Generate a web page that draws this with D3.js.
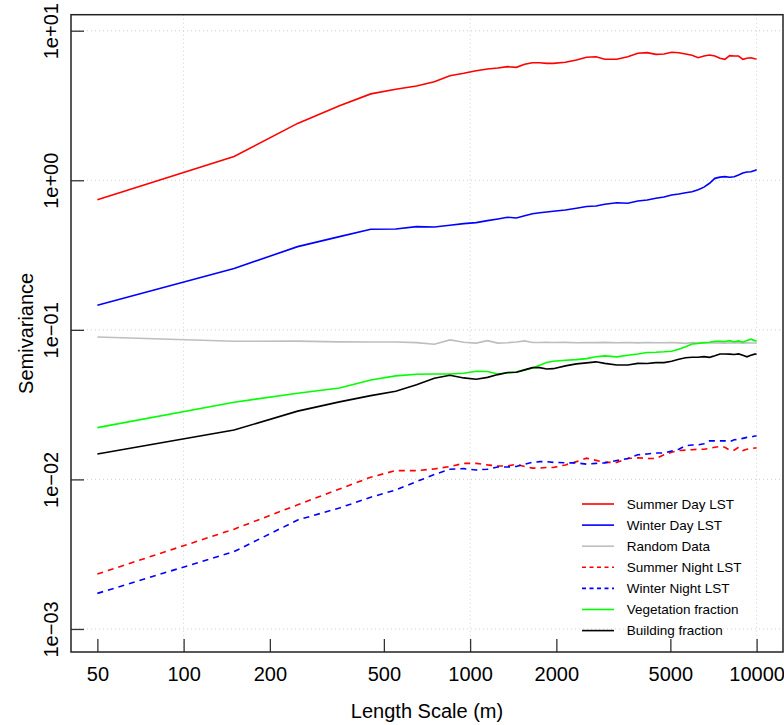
<!DOCTYPE html>
<html>
<head>
<meta charset="utf-8">
<script src="https://d3js.org/d3.v7.min.js"></script>
<style>
  body { margin: 0; background: #fff; }
  text { font-family: "Liberation Sans", Arial, Helvetica, sans-serif; fill: #000; }
</style>
</head>
<body>
<div id="chart-area"></div>
<script>
// lag distances (m)
var lags = [50, 150, 250, 350, 450, 550, 650, 750, 850, 950,
  1050, 1150, 1250, 1350, 1450, 1550, 1650, 1750, 1850, 1950,
  2150, 2350, 2550, 2750, 2950, 3250, 3550, 3850, 4150, 4450,
  4750, 5050, 5350, 5650, 5950, 6250, 6550, 6850, 7150, 7450,
  7750, 8050, 8350, 8650, 8950, 9250, 9550, 9850, 10000];

var summerDay = [0.74, 1.44, 2.40, 3.15, 3.78, 4.06, 4.27, 4.55, 5.0, 5.19,
  5.40, 5.55, 5.63, 5.75, 5.69, 5.96, 6.11, 6.11, 6.05, 6.05,
  6.15, 6.37, 6.64, 6.70, 6.44, 6.44, 6.70, 7.06, 7.13, 6.95,
  6.98, 7.17, 7.13, 6.98, 6.85, 6.60, 6.77, 6.88, 6.77, 6.54,
  6.44, 6.81, 6.77, 6.77, 6.44, 6.54, 6.60, 6.50, 6.47];

var winterDay = [0.146, 0.257, 0.360, 0.42, 0.470, 0.472, 0.49, 0.487, 0.50, 0.513,
  0.521, 0.537, 0.551, 0.566, 0.56, 0.58, 0.598, 0.607, 0.614, 0.62,
  0.633, 0.650, 0.667, 0.673, 0.691, 0.708, 0.702, 0.727, 0.738, 0.758,
  0.773, 0.797, 0.81, 0.826, 0.839, 0.865, 0.90, 0.955, 1.03, 1.05,
  1.057, 1.047, 1.057, 1.085, 1.12, 1.136, 1.14, 1.16, 1.18];

var randomData = [0.0895, 0.0839, 0.084, 0.0831, 0.083, 0.083, 0.0821, 0.0801, 0.0856, 0.0826,
  0.0815, 0.0847, 0.0815, 0.082, 0.083, 0.0843, 0.0822, 0.0822, 0.0825, 0.0822,
  0.0824, 0.082, 0.0823, 0.0821, 0.0824, 0.082, 0.0822, 0.0818, 0.0823, 0.082,
  0.0819, 0.0822, 0.0818, 0.0812, 0.0821, 0.0818, 0.082, 0.0816, 0.082, 0.0818,
  0.0815, 0.082, 0.0817, 0.0819, 0.0815, 0.0818, 0.0816, 0.0817, 0.0818];

var summerNight = [0.00233, 0.00465, 0.00676, 0.00863, 0.01035, 0.01145, 0.01145, 0.01175, 0.0122, 0.0128,
  0.0128, 0.0125, 0.0123, 0.0123, 0.0126, 0.0122, 0.0119, 0.0119, 0.012, 0.012,
  0.0125, 0.01315, 0.01387, 0.0134, 0.013, 0.013, 0.0138, 0.01395, 0.0138, 0.0138,
  0.0146, 0.0152, 0.0156, 0.0157, 0.0158, 0.0159, 0.0159, 0.0161, 0.0164, 0.0166,
  0.0164, 0.0157, 0.0157, 0.0164, 0.0156, 0.0159, 0.0161, 0.0162, 0.0162];

var winterNight = [0.00173, 0.00329, 0.00535, 0.00644, 0.0076, 0.0085, 0.00967, 0.01077, 0.0117, 0.0118,
  0.01156, 0.0117, 0.0121, 0.0121, 0.0122, 0.01264, 0.013, 0.01315, 0.01315, 0.013,
  0.0129, 0.0129, 0.01265, 0.0128, 0.0129, 0.01336, 0.0138, 0.0146, 0.0148, 0.015,
  0.015, 0.0155, 0.0159, 0.0168, 0.017, 0.017, 0.0173, 0.0181, 0.0181, 0.0181,
  0.0181, 0.0179, 0.0184, 0.0185, 0.0188, 0.0191, 0.0192, 0.0195, 0.0195];

var vegetation = [0.0222, 0.0328, 0.0377, 0.0408, 0.0462, 0.0492, 0.0505, 0.0507, 0.0507, 0.0513,
  0.0529, 0.0527, 0.0507, 0.0515, 0.0523, 0.054, 0.0556, 0.058, 0.0604, 0.0617,
  0.0626, 0.0632, 0.0642, 0.066, 0.067, 0.066, 0.0677, 0.069, 0.0705, 0.0708,
  0.0713, 0.072, 0.0742, 0.0772, 0.0805, 0.081, 0.0821, 0.0826, 0.0838, 0.0838,
  0.0835, 0.0847, 0.083, 0.0843, 0.0826, 0.0847, 0.0866, 0.0847, 0.0843];

var building = [0.0148, 0.0214, 0.0286, 0.033, 0.0363, 0.0389, 0.043, 0.0475, 0.0497, 0.0477,
  0.0467, 0.0481, 0.0502, 0.0518, 0.052, 0.054, 0.0559, 0.0559, 0.0547, 0.055,
  0.0574, 0.0592, 0.0601, 0.0611, 0.0597, 0.0582, 0.0582, 0.0597, 0.0595, 0.0604,
  0.0604, 0.0617, 0.0636, 0.065, 0.0655, 0.0655, 0.0662, 0.0655, 0.067, 0.069,
  0.069, 0.0688, 0.0684, 0.069, 0.0677, 0.066, 0.0677, 0.0688, 0.069];

var seriesNames = ["Summer Day LST", "Winter Day LST", "Random Data", "Summer Night LST",
  "Winter Night LST", "Vegetation fraction", "Building fraction"];
var seriesValues = [summerDay, winterDay, randomData, summerNight, winterNight, vegetation, building];
var seriesColors = ["#ff0000", "#0000ff", "#bebebe", "#ff0000", "#0000ff", "#00ff00", "#000000"];
var seriesDashed = [false, false, false, true, true, false, false];

var xTicks = [50, 100, 200, 500, 1000, 2000, 5000, 10000];
var xGrid = [100, 1000, 10000];
var yTicks = [1e-3, 1e-2, 1e-1, 1, 10];
var yTickLabels = ["1e\u221203", "1e\u221202", "1e\u221201", "1e+00", "1e+01"];

var margin = {left: 71, right: 1, top: 14.7, bottom: 73};
var width = 784 - margin.left - margin.right;
var height = 725 - margin.top - margin.bottom;

var svg = d3.select("#chart-area").append("svg")
  .attr("width", 784)
  .attr("height", 725);
var g = svg.append("g")
  .attr("transform", "translate(" + margin.left + "," + margin.top + ")");

// R-style log axes (4% padding in log space on x, fixed limits on y)
var x = d3.scaleLog()
  .domain([Math.pow(10, 1.6069), Math.pow(10, 4.0921)])
  .range([0, width]);
var y = d3.scaleLog()
  .domain([Math.pow(10, -3.154), Math.pow(10, 1.107)])
  .range([height, 0]);

// dotted grid
g.selectAll(".vgrid").data(xGrid).enter().append("line")
  .attr("x1", d => x(d)).attr("x2", d => x(d))
  .attr("y1", 0).attr("y2", height)
  .attr("stroke", "#cfcfcf").attr("stroke-width", 1).attr("stroke-dasharray", "1,3");
g.selectAll(".hgrid").data(yTicks).enter().append("line")
  .attr("x1", 0).attr("x2", width)
  .attr("y1", d => y(d)).attr("y2", d => y(d))
  .attr("stroke", "#cfcfcf").attr("stroke-width", 1).attr("stroke-dasharray", "1,3");

// lines
var line = d3.line()
  .x((d, i) => x(lags[i]))
  .y(d => y(d));

seriesValues.forEach((vals, k) => {
  g.append("path")
    .datum(vals)
    .attr("d", line)
    .attr("fill", "none")
    .attr("stroke", seriesColors[k])
    .attr("stroke-width", 1.6)
    .attr("stroke-dasharray", seriesDashed[k] ? "6,5" : null);
});

// axes, ticks pointing inward
var xAxis = g.append("g")
  .attr("transform", "translate(0," + height + ")")
  .call(d3.axisBottom(x).tickValues(xTicks).tickFormat(d3.format("d")).tickSize(-13).tickPadding(14.5));
xAxis.select(".domain").remove();
xAxis.selectAll("line").attr("stroke", "#333").attr("stroke-width", 1.3);
xAxis.selectAll("text").attr("font-size", 20).attr("font-family", "Liberation Sans, Arial, sans-serif");

var yAxis = g.append("g")
  .call(d3.axisLeft(y).tickValues(yTicks).tickFormat((d, i) => yTickLabels[i]).tickSize(-13));
yAxis.select(".domain").remove();
yAxis.selectAll("line").attr("stroke", "#333").attr("stroke-width", 1.3);
yAxis.selectAll("text")
  .attr("x", null).attr("dy", null)
  .attr("text-anchor", "middle")
  .attr("transform", "translate(-13,0) rotate(-90)")
  .attr("font-size", 20).attr("font-family", "Liberation Sans, Arial, sans-serif");

// plot box
g.append("rect")
  .attr("x", 0).attr("y", 0)
  .attr("width", width).attr("height", height)
  .attr("fill", "none").attr("stroke", "#222").attr("stroke-width", 1.5);

// axis titles
svg.append("text")
  .attr("x", margin.left + width / 2).attr("y", 718)
  .attr("text-anchor", "middle").attr("font-size", 20)
  .text("Length Scale (m)");
svg.append("text")
  .attr("transform", "translate(33," + (margin.top + height / 2) + ") rotate(-90)")
  .attr("text-anchor", "middle").attr("font-size", 20)
  .text("Semivariance");

// legend (no box)
var legend = svg.append("g").attr("transform", "translate(582,504)");
seriesNames.forEach((name, k) => {
  var row = legend.append("g").attr("transform", "translate(0," + (k * 21.1) + ")");
  row.append("line")
    .attr("x1", 0).attr("x2", 32).attr("y1", 0).attr("y2", 0)
    .attr("stroke", seriesColors[k]).attr("stroke-width", 1.6)
    .attr("stroke-dasharray", seriesDashed[k] ? "4,3.5" : null);
  row.append("text")
    .attr("x", 44.7).attr("y", 0).attr("dy", "0.35em")
    .attr("font-size", 13.5)
    .text(name);
});
</script>
</body>
</html>
